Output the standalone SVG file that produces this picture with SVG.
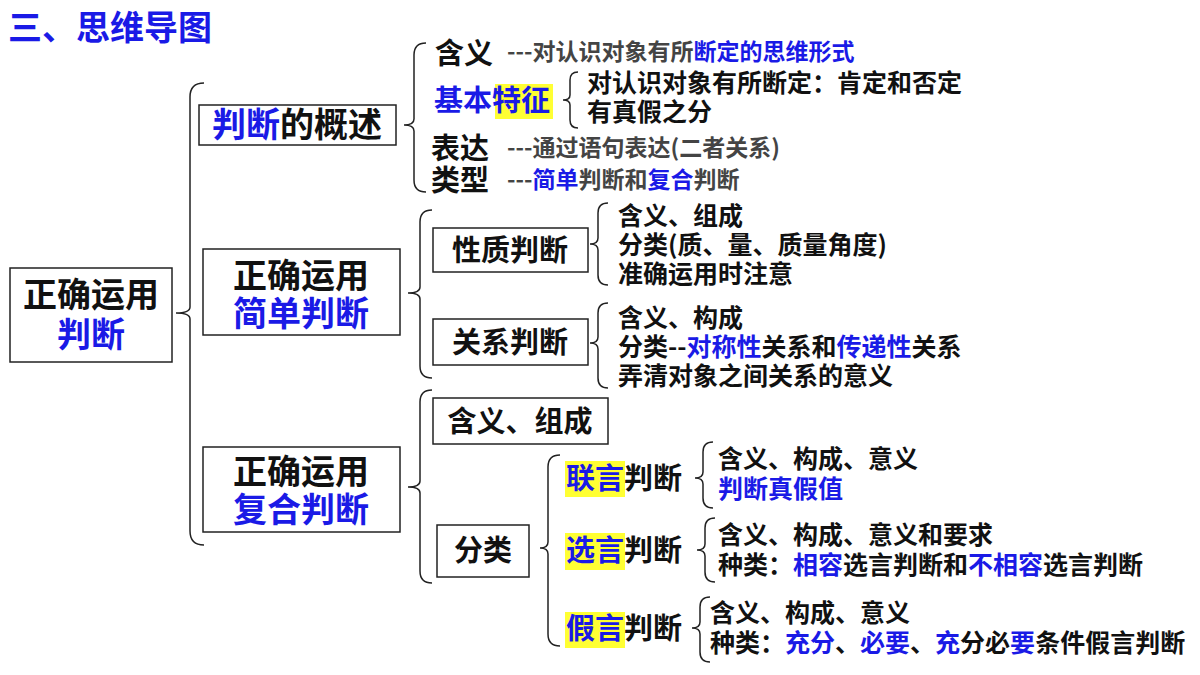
<svg xmlns="http://www.w3.org/2000/svg" width="1200" height="675" viewBox="0 0 1200 675">
<style>
text{font-family:"Noto Sans CJK SC","Noto Sans",sans-serif;font-weight:bold;fill:#111}
.b{fill:#1a1ae6}
.g{fill:#444;font-size:23px}
.box{fill:#fff;stroke:#222;stroke-width:1.5}
.br{fill:none;stroke:#222;stroke-width:1.5}
.hl{fill:#ffff33}
.s22{font-size:25px}
.s26{font-size:29px}
.s30{font-size:34px}
</style>
<rect width="1200" height="675" fill="#fff"/>
<text x="8" y="40" class="b" font-size="34">三、思维导图</text>
<g id="connectors">
<path class="br" d="M204,83 Q190,83 190,97 L190,307 Q190,313 176,313 Q190,313 190,319 L190,531 Q190,545 204,545"/>
<path class="br" d="M426,43 Q414,43 414,55 L414,119 Q414,125 404,125 Q414,125 414,131 L414,180 Q414,192 426,192"/>
<path class="br" d="M578,72 Q570,72 570,80 L570,95 Q570,100 563,100 Q570,100 570,105 L570,120 Q570,128 578,128"/>
<path class="br" d="M432,210 Q420,210 420,222 L420,287 Q420,293 408,293 Q420,293 420,299 L420,366 Q420,378 432,378"/>
<path class="br" d="M608,203 Q598,203 598,213 L598,238 Q598,244 590,244 Q598,244 598,250 L598,275 Q598,285 608,285"/>
<path class="br" d="M608,303 Q598,303 598,313 L598,337 Q598,343 590,343 Q598,343 598,349 L598,378 Q598,388 608,388"/>
<path class="br" d="M432,390 Q420,390 420,402 L420,481 Q420,487 408,487 Q420,487 420,493 L420,571 Q420,583 432,583"/>
<path class="br" d="M560,455 Q548,455 548,467 L548,542 Q548,548 540,548 Q548,548 548,554 L548,634 Q548,646 560,646"/>
<path class="br" d="M713,442 Q703,442 703,452 L703,472 Q703,478 695,478 Q703,478 703,484 L703,498 Q703,508 713,508"/>
<path class="br" d="M715,518 Q705,518 705,528 L705,544 Q705,550 697,550 Q705,550 705,556 L705,572 Q705,582 715,582"/>
<path class="br" d="M710,597 Q700,597 700,607 L700,622 Q700,628 692,628 Q700,628 700,634 L700,652 Q700,662 710,662"/>
</g>
<g id="root"><rect class="box" x="10" y="268" width="162" height="94"/>
<text x="91" y="307" text-anchor="middle" class="s30">正确运用</text>
<text x="91" y="347" text-anchor="middle" class="s30 b">判断</text></g>
<g id="n-overview"><rect class="box" x="199" y="105" width="197" height="40"/>
<text x="297" y="137" text-anchor="middle" class="s30"><tspan class="b">判断</tspan>的概述</text></g>
<g id="n-simple"><rect class="box" x="203" y="249" width="197" height="86"/>
<text x="301" y="288" text-anchor="middle" class="s30">正确运用</text>
<text x="301" y="326" text-anchor="middle" class="s30 b">简单判断</text></g>
<g id="n-compound"><rect class="box" x="203" y="447" width="197" height="85"/>
<text x="301" y="484" text-anchor="middle" class="s30">正确运用</text>
<text x="301" y="522" text-anchor="middle" class="s30 b">复合判断</text></g>
<g id="overview-items">
<text x="435" y="64" class="s26">含义</text>
<text x="507" y="60" class="g">---对认识对象有所<tspan class="b">断定的思维形式</tspan></text>
<rect class="hl" x="495" y="84" width="58" height="35"/>
<text x="434" y="111" class="s26 b">基本特征</text>
<text x="587" y="92" class="s22">对认识对象有所断定：肯定和否定</text>
<text x="587" y="121" class="s22">有真假之分</text>
<text x="431" y="159" class="s26">表达</text>
<text x="507" y="156" class="g">---通过语句表达(二者关系)</text>
<text x="431" y="191" class="s26">类型</text>
<text x="507" y="188" class="g">---<tspan class="b">简单</tspan>判断和<tspan class="b">复合</tspan>判断</text>
</g>
<g id="n-xingzhi"><rect class="box" x="433" y="228" width="155" height="44"/>
<text x="510" y="261" text-anchor="middle" class="s26">性质判断</text>
<text x="618" y="225" class="s22">含义、组成</text>
<text x="618" y="254" class="s22">分类(质、量、质量角度)</text>
<text x="618" y="283" class="s22">准确运用时注意</text></g>
<g id="n-guanxi"><rect class="box" x="433" y="319" width="155" height="46"/>
<text x="510" y="353" text-anchor="middle" class="s26">关系判断</text>
<text x="618" y="327" class="s22">含义、构成</text>
<text x="618" y="356" class="s22">分类--<tspan class="b">对称性</tspan>关系和<tspan class="b">传递性</tspan>关系</text>
<text x="618" y="385" class="s22">弄清对象之间关系的意义</text></g>
<g id="n-hanyi"><rect class="box" x="433" y="398" width="175" height="46"/>
<text x="520" y="432" text-anchor="middle" class="s26">含义、组成</text></g>
<g id="n-fenlei"><rect class="box" x="437" y="525" width="92" height="52"/>
<text x="483" y="561" text-anchor="middle" class="s26">分类</text></g>
<g id="n-lianyan"><rect class="hl" x="565" y="461" width="60" height="36"/>
<text x="566" y="489" class="s26"><tspan class="b">联言</tspan>判断</text>
<text x="718" y="468" class="s22">含义、构成、意义</text>
<text x="718" y="498" class="s22 b">判断真假值</text></g>
<g id="n-xuanyan"><rect class="hl" x="565" y="533" width="60" height="37"/>
<text x="566" y="561" class="s26"><tspan class="b">选言</tspan>判断</text>
<text x="718" y="544" class="s22">含义、构成、意义和要求</text>
<text x="718" y="574" class="s22">种类：<tspan class="b">相容</tspan>选言判断和<tspan class="b">不相容</tspan>选言判断</text></g>
<g id="n-jiayan"><rect class="hl" x="565" y="612" width="60" height="36"/>
<text x="566" y="639" class="s26"><tspan class="b">假言</tspan>判断</text>
<text x="710" y="622" class="s22">含义、构成、意义</text>
<text x="710" y="652" class="s22">种类：<tspan class="b">充分</tspan>、<tspan class="b">必要</tspan>、<tspan class="b">充</tspan>分必<tspan class="b">要</tspan>条件假言判断</text></g>
</svg>
